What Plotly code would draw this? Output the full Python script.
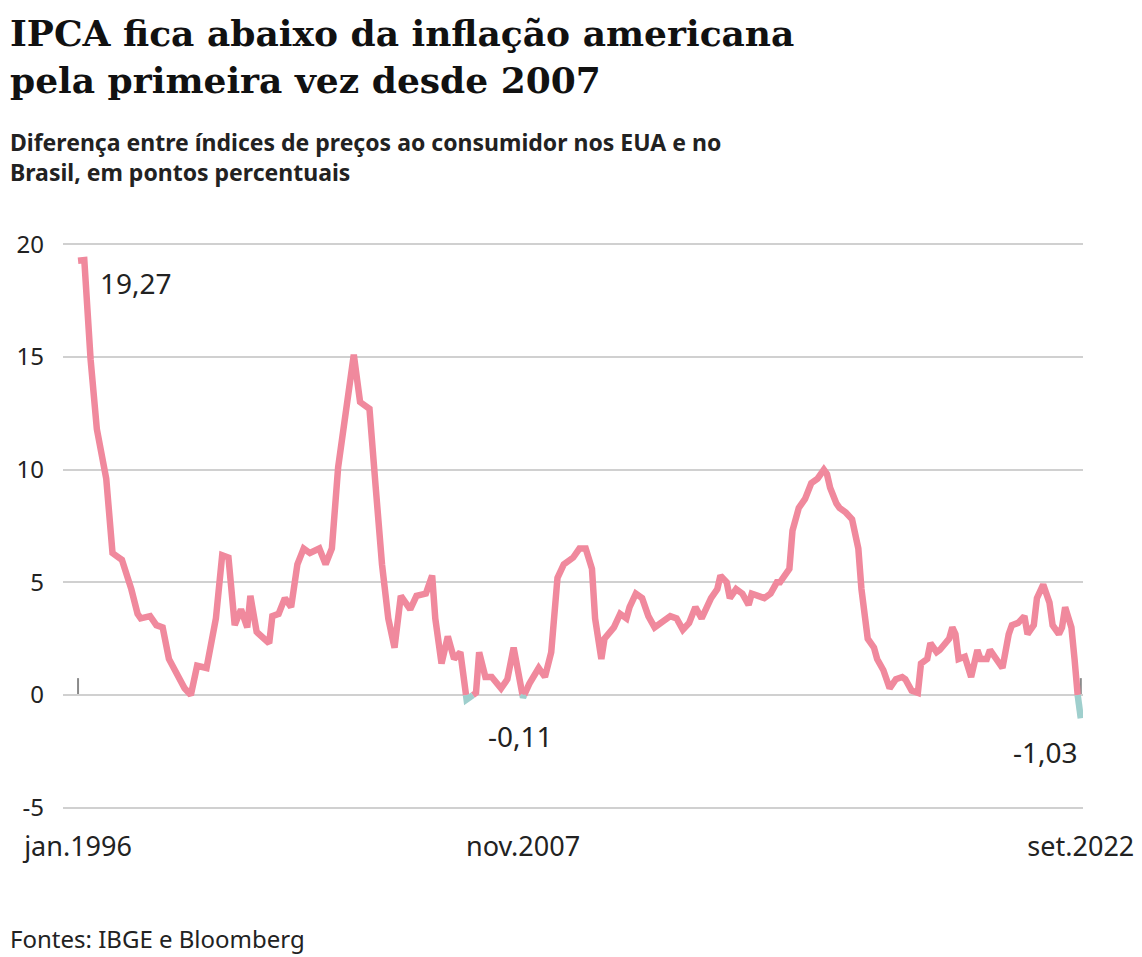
import plotly.graph_objects as go

# months since jan.1996
months = [0,2,4,6,9,11,13,14,17,19,20,23,25,27,29,32,34,36,38,41,44,46,48,50,52,54,55,57,61,62,64,66,68,70,72,74,77,79,81,83,85,86,88,90,93,95,97,99,101,103,106,108,111,113,114,116,118,120,122,124,127,128,130,132,135,137,139,142,144,147,149,151,153,155,158,160,162,164,165,167,168,171,173,175,176,178,180,182,184,187,189,191,193,195,197,199,202,204,205,207,208,210,212,214,215,217,219,221,223,224,227,228,230,232,234,236,238,239,240,242,243,245,247,249,250,252,254,255,257,259,261,263,264,266,268,269,271,272,274,275,278,279,280,281,283,285,287,288,290,291,293,295,297,298,300,302,303,305,306,308,310,311,313,314,315,317,318,319,320]
values = [19.27,19.3,14.9,11.8,9.6,6.3,6.1,6.0,4.7,3.6,3.4,3.5,3.1,3.0,1.6,0.8,0.3,0.0,1.3,1.2,3.4,6.2,6.1,3.1,3.8,3.0,4.4,2.8,2.3,3.5,3.6,4.3,3.9,5.8,6.5,6.3,6.5,5.8,6.5,10.1,12.1,13.6,15.1,13.0,12.7,9.2,5.8,3.4,2.1,4.4,3.8,4.4,4.5,5.3,3.4,1.4,2.6,1.6,1.9,-0.2,0.1,1.9,0.8,0.8,0.3,0.7,2.1,-0.11,0.5,1.2,0.8,1.9,5.2,5.8,6.1,6.5,6.5,5.6,3.4,1.6,2.5,3.0,3.6,3.4,3.9,4.5,4.3,3.5,3.0,3.3,3.5,3.4,2.9,3.2,3.9,3.4,4.3,4.7,5.3,5.0,4.3,4.7,4.5,4.0,4.5,4.4,4.3,4.5,5.0,5.0,5.6,7.3,8.3,8.7,9.4,9.6,10.0,9.8,9.2,8.5,8.3,8.1,7.8,6.5,4.7,2.5,2.1,1.6,1.1,0.3,0.7,0.8,0.7,0.2,0.1,1.4,1.6,2.3,1.9,2.0,2.5,3.0,2.7,1.6,1.7,0.8,2.0,1.6,1.6,2.0,1.6,1.2,2.7,3.1,3.2,3.5,2.7,3.1,4.3,4.9,4.1,3.1,2.7,3.0,3.9,3.0,1.6,0.0,-1.03]
tick_vals = [0, 142, 320]
tick_text = ["jan.1996", "nov.2007", "set.2022"]
labels = [(0, 19.27, "19,27"), (142, -0.11, "-0,11"), (320, -1.03, "-1,03")]

PINK = "#f0899d"
TEAL = "#9fcfcd"
SANS = "Noto Sans, Open Sans, sans-serif"

pos_x, pos_y, neg_x, neg_y = [], [], [], []
for i in range(len(months)):
    x, y = months[i], values[i]
    if i > 0:
        x0, y0 = months[i-1], values[i-1]
        if (y0 < 0) != (y < 0) and y0 != y:
            xc = x0 + (0 - y0) * (x - x0) / (y - y0)
            for arrx, arry in ((pos_x, pos_y), (neg_x, neg_y)):
                arrx.append(xc); arry.append(0)
            if y < 0:
                pos_x.append(None); pos_y.append(None)
            else:
                neg_x.append(None); neg_y.append(None)
    if y < 0:
        neg_x.append(x); neg_y.append(y)
    else:
        pos_x.append(x); pos_y.append(y)

fig = go.Figure()
fig.add_trace(go.Scatter(x=pos_x, y=pos_y, mode="lines", line=dict(color=PINK, width=6.5), connectgaps=False, hoverinfo="skip"))
fig.add_trace(go.Scatter(x=neg_x, y=neg_y, mode="lines", line=dict(color=TEAL, width=6.5), connectgaps=False, hoverinfo="skip"))

fig.add_shape(type="line", xref="x", yref="y", x0=-4.8, x1=320.7, y0=0, y1=0, line=dict(color="#8a8a8a", width=2), layer="below")
for tv in (0, 320):
    fig.add_shape(type="line", xref="x", yref="y", x0=tv, x1=tv, y0=0, y1=0.75, line=dict(color="#8a8a8a", width=2), layer="below")

offs = {"19,27": (20, -22), "-0,11": (-37, -38), "-1,03": (-70, -34)}
for mx, v, t in labels:
    dx, dy = offs[t]
    fig.add_annotation(x=mx, y=v, text=t, showarrow=False, xanchor="left", xshift=dx, yshift=dy,
                       font=dict(family=SANS, size=28, color="#222"))

fig.update_layout(
    width=1142, height=957, plot_bgcolor="white", paper_bgcolor="white", showlegend=False,
    margin=dict(l=55, r=67, t=234, b=155, autoexpand=False),
    xaxis=dict(range=[-4.8, 320.7], tickvals=tick_vals, ticktext=tick_text, showgrid=False, zeroline=False,
               showline=False, ticks="", automargin=False, ticklabelstandoff=18,
               tickfont=dict(family=SANS, size=27, color="#222")),
    yaxis=dict(range=[-5.1, 20.1], tickvals=[-5, 0, 5, 10, 15, 20], ticktext=["-5", "0", "5", "10", "15", "20"],
               showgrid=True, gridcolor="#d0d0d0", gridwidth=2, zeroline=False, ticks="", automargin=False,
               ticklabelstandoff=18, tickfont=dict(family=SANS, size=24, color="#222")),
)
fig.add_annotation(xref="paper", yref="paper", x=-55/1020, y=1 + 232/568, xanchor="left", yanchor="top", align="left",
                   showarrow=False, text="<b>IPCA fica abaixo da inflação americana<br>pela primeira vez desde 2007</b>",
                   font=dict(family="DejaVu Serif", size=36, color="#111"))
fig.add_annotation(xref="paper", yref="paper", x=-55/1020, y=1 + 118/568, xanchor="left", yanchor="top", align="left",
                   showarrow=False, text="<b>Diferença entre índices de preços ao consumidor nos EUA e no<br>Brasil, em pontos percentuais</b>",
                   font=dict(family=SANS, size=23, color="#222"))
fig.add_annotation(xref="paper", yref="paper", x=-55/1020, y=-110/568, xanchor="left", yanchor="top",
                   showarrow=False, text="Fontes: IBGE e Bloomberg", font=dict(family=SANS, size=24, color="#222"))
fig.write_html("out.html")
